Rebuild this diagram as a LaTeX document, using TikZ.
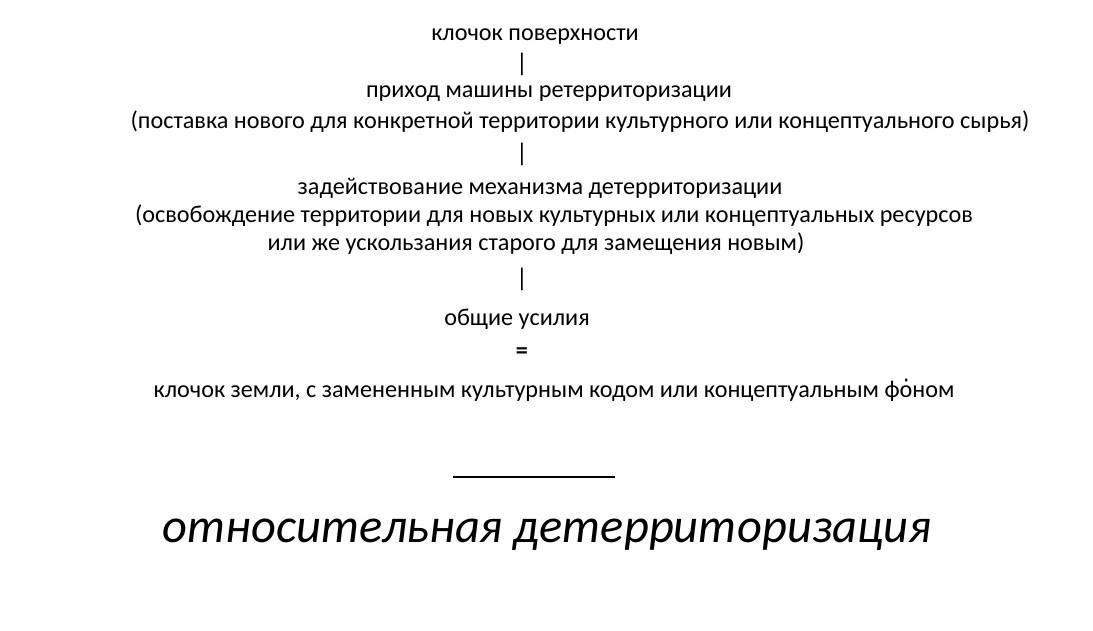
\documentclass[tikz,border=0pt]{standalone}
\usepackage{fontspec}
\setmainfont{Carlito}
\newfontfamily\dvfont{DejaVu Sans}
\begin{document}
\begin{tikzpicture}[x=1pt,y=-1pt,
  txt/.style={anchor=base,inner sep=0pt,font=\fontsize{24.2}{28}\selectfont},
  bar/.style={anchor=base,inner sep=0pt,font=\fontsize{25.5}{28}\selectfont},
  big/.style={anchor=base,inner sep=0pt,font=\fontsize{48.5}{56}\selectfont\itshape}]
\useasboundingbox[fill=white] (0,0) rectangle (1093,630);
\node[txt] (a) at (535,40) {клочок поверхности};
\node[bar] (b1) at (522,71) {|};
\node[txt] (b) at (549,97) {приход машины ретерриторизации};
\node[txt] (c) at (580,128) {(поставка нового для конкретной территории культурного или концептуального сырья)};
\node[bar] (b2) at (522,161) {|};
\node[txt] (d) at (540,194) {задействование механизма детерриторизации};
\node[txt] (e) at (554,222) {(освобождение территории для новых культурных или концептуальных ресурсов};
\node[txt] (f) at (536,250) {или же ускользания старого для замещения новым)};
\node[bar] (b3) at (522,286) {|};
\node[txt] (g) at (517,325) {общие усилия};
\node[txt] (h) at (522,358) {\textbf{=}};
\node[txt] (i) at (554,397) {клочок земли, с замененным культурным кодом или концептуальным фо{\dvfont\char"0307}ном};
\coordinate (u1) at (453,477);
\coordinate (u2) at (615,477);
\draw[line width=2.4pt] (u1) -- (u2);
\node[big] (j) at (547,542) {относительная детерриторизация};
\end{tikzpicture}
\end{document}
